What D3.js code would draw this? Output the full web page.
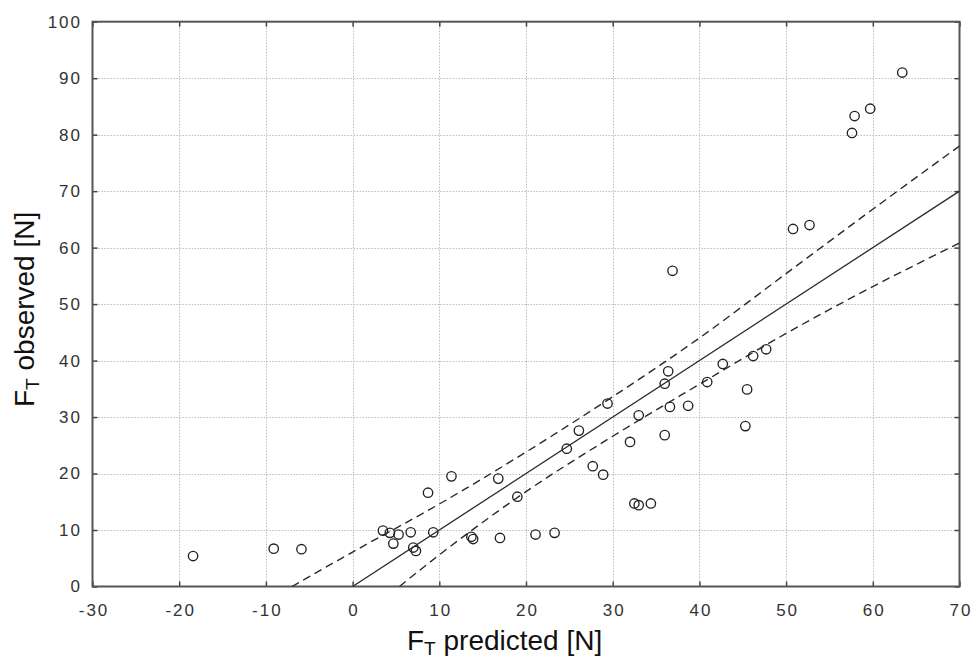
<!DOCTYPE html>
<html>
<head>
<meta charset="utf-8">
<script src="https://cdn.jsdelivr.net/npm/d3@7"></script>
<style>
  html, body { margin: 0; padding: 0; background: #fff; }
  svg { display: block; }
</style>
</head>
<body>
<svg id="chart" width="974" height="660"></svg>
<script>
// ---- data ----
const predicted = [-18.4, -9.1, -5.9, 3.5, 4.3, 5.3, 4.7, 6.7, 7.0, 7.3, 9.3, 8.7, 11.4, 13.7, 13.9, 17.0,
  16.8, 19.0, 21.1, 23.3, 24.7, 26.1, 27.7, 28.9, 29.4, 32.0, 33.0, 32.5, 33.0, 34.4, 36.0, 36.0, 36.4,
  36.6, 36.9, 38.7, 40.9, 42.7, 45.3, 45.5, 46.2, 47.7, 50.8, 52.7, 57.6, 57.9, 59.7, 63.4];
const observed = [5.4, 6.7, 6.6, 9.9, 9.5, 9.2, 7.6, 9.6, 6.9, 6.3, 9.6, 16.6, 19.5, 8.8, 8.4, 8.6,
  19.1, 15.9, 9.2, 9.5, 24.4, 27.6, 21.3, 19.8, 32.4, 25.6, 30.3, 14.7, 14.4, 14.7, 26.8, 35.9, 38.1,
  31.8, 55.9, 32.0, 36.2, 39.4, 28.4, 34.9, 40.8, 42.0, 63.3, 64.0, 80.3, 83.3, 84.6, 91.0];

// fitted line end points
const fitX = [0, 70];
const fitY = [0, 70];

// confidence band lines
const upperX = [-7, 0, 10, 20, 30, 40, 50, 60, 70];
const upperY = [0, 6.1, 14.6, 23.8, 33.6, 44.0, 55.4, 66.8, 78.0];
const lowerX = [5.4, 10, 20, 30, 40, 50, 60, 70];
const lowerY = [0, 5.6, 16.8, 26.6, 35.8, 44.8, 53.1, 60.8];

const xTicks = [-30, -20, -10, 0, 10, 20, 30, 40, 50, 60, 70];
const yTicks = [0, 10, 20, 30, 40, 50, 60, 70, 80, 90, 100];
const xTitleMain = "F", xTitleSub = "T", xTitleRest = " predicted [N]";
const yTitleMain = "F", yTitleSub = "T", yTitleRest = " observed [N]";

// ---- drawing ----
const svg = d3.select("#chart");
const L = 92.5, R = 959.5, T = 21.7, B = 586.5;
const FONT = "Arial, 'Liberation Sans', Helvetica, sans-serif";
const LS = 2;

const x = d3.scaleLinear().domain([-30, 70]).range([L, R]);
const y = d3.scaleLinear().domain([0, 100]).range([B, T]);

svg.append("rect").attr("width", 974).attr("height", 660).attr("fill", "#fff");

// grid
const grid = svg.append("g").attr("stroke", "#bdbdbd").attr("stroke-width", 1)
  .attr("stroke-dasharray", "1.5,1.5").attr("fill", "none");
grid.selectAll("line.v").data(xTicks.slice(1, -1)).join("line").attr("class", "v")
  .attr("x1", d => Math.round(x(d)) + 0.5).attr("x2", d => Math.round(x(d)) + 0.5)
  .attr("y1", T).attr("y2", B);
grid.selectAll("line.h").data(yTicks.slice(1, -1)).join("line").attr("class", "h")
  .attr("y1", d => Math.round(y(d)) + 0.5).attr("y2", d => Math.round(y(d)) + 0.5)
  .attr("x1", L).attr("x2", R);

// axes (ticks inward)
function styleAxis(g) {
  g.select(".domain").remove();
  g.selectAll(".tick line").attr("stroke", "#444").attr("stroke-width", 1.5);
  g.selectAll(".tick text").attr("fill", "#333").style("font-family", FONT)
    .style("font-size", "17px").style("letter-spacing", LS + "px");
}
svg.append("g").attr("transform", `translate(0,${B})`)
  .call(d3.axisBottom(x).tickValues(xTicks).tickFormat(d => String(d)).tickSizeInner(-5).tickSizeOuter(0).tickPadding(17.5))
  .call(styleAxis)
  .call(g => g.selectAll(".tick text").attr("dx", (LS / 2) + "px"));
svg.append("g").attr("transform", `translate(0,${T})`)
  .call(d3.axisTop(x).tickValues(xTicks).tickFormat("").tickSizeInner(-5).tickSizeOuter(0))
  .call(styleAxis);
svg.append("g").attr("transform", `translate(${L},0)`)
  .call(d3.axisLeft(y).tickValues(yTicks).tickFormat(d => String(d)).tickSizeInner(-5).tickSizeOuter(0).tickPadding(10.5))
  .call(styleAxis);
svg.append("g").attr("transform", `translate(${R},0)`)
  .call(d3.axisRight(y).tickValues(yTicks).tickFormat("").tickSizeInner(-5).tickSizeOuter(0))
  .call(styleAxis);

// frame
svg.append("rect").attr("x", L).attr("y", T).attr("width", R - L).attr("height", B - T)
  .attr("fill", "none").attr("stroke", "#555").attr("stroke-width", 2);

// clip
svg.append("clipPath").attr("id", "plot").append("rect")
  .attr("x", L).attr("y", T).attr("width", R - L).attr("height", B - T);
const plot = svg.append("g").attr("clip-path", "url(#plot)");

const line = d3.line().x(d => x(d[0])).y(d => y(d[1])).curve(d3.curveMonotoneX);

plot.append("path").datum(fitX.map((v, i) => [v, fitY[i]]))
  .attr("d", d3.line().x(d => x(d[0])).y(d => y(d[1])))
  .attr("fill", "none").attr("stroke", "#2a2a2a").attr("stroke-width", 1.3);

[[upperX, upperY], [lowerX, lowerY]].forEach(([xs, ys]) => {
  plot.append("path").datum(xs.map((v, i) => [v, ys[i]]))
    .attr("d", line)
    .attr("fill", "none").attr("stroke", "#2a2a2a").attr("stroke-width", 1.4)
    .attr("stroke-dasharray", "8,5");
});

// points
plot.selectAll("circle.pt").data(predicted.map((v, i) => [v, observed[i]])).join("circle")
  .attr("class", "pt")
  .attr("cx", d => x(d[0])).attr("cy", d => y(d[1])).attr("r", 4.7)
  .attr("fill", "none").attr("stroke", "#222").attr("stroke-width", 1.35);

// titles
const xt = svg.append("text").attr("x", 407).attr("y", 650)
  .style("font-family", FONT).style("font-size", "28px").attr("fill", "#111");
xt.append("tspan").text(xTitleMain);
xt.append("tspan").text(xTitleSub).attr("font-size", "19px").attr("dy", "5");
xt.append("tspan").text(xTitleRest).attr("dy", "-5");

const yt = svg.append("text").attr("transform", "translate(34,407) rotate(-90)")
  .style("font-family", FONT).style("font-size", "28px").attr("fill", "#111");
yt.append("tspan").text(yTitleMain);
yt.append("tspan").text(yTitleSub).attr("font-size", "19px").attr("dy", "5");
yt.append("tspan").text(yTitleRest).attr("dy", "-5");
</script>
</body>
</html>
